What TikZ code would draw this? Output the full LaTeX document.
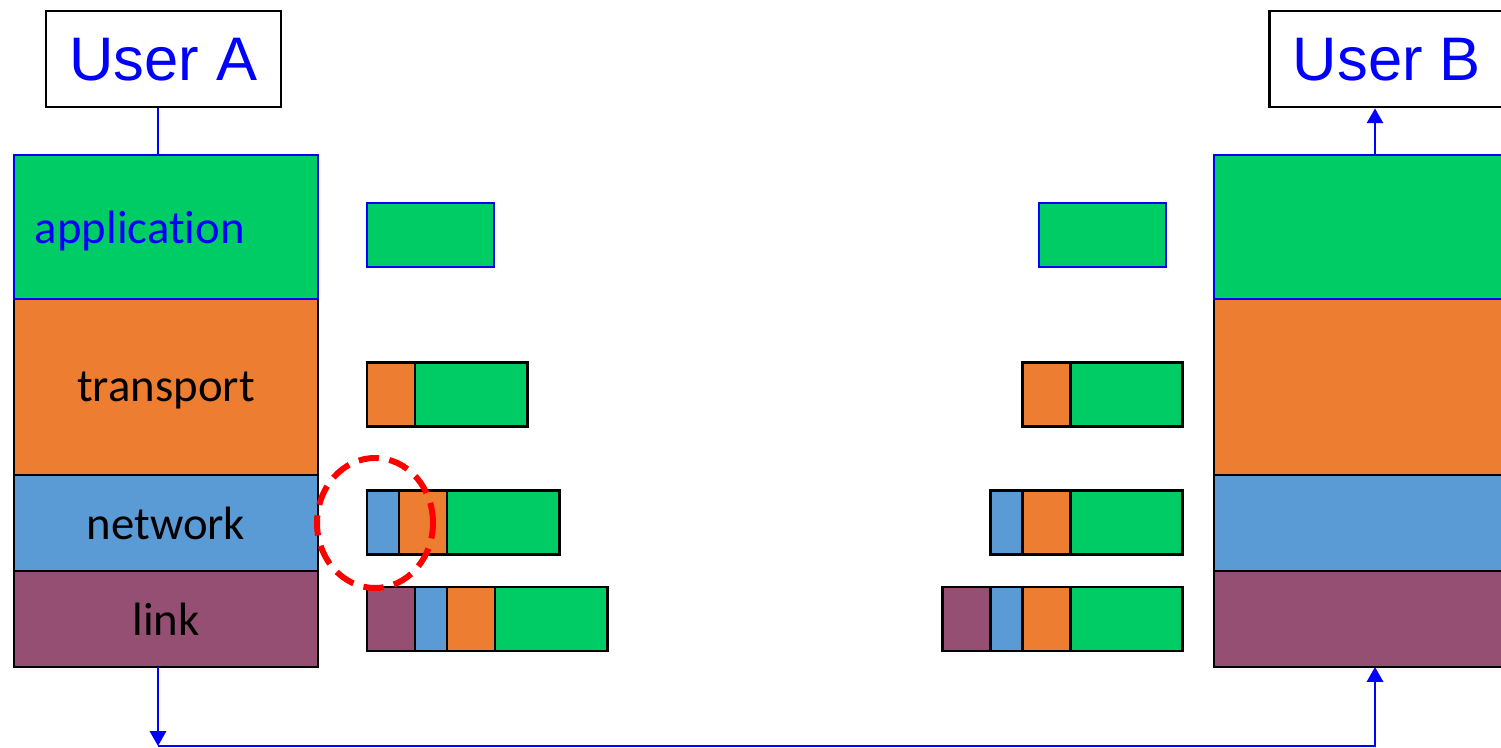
\documentclass[tikz,border=0pt]{standalone}
\usepackage{fontspec}
\setmainfont{Carlito}[Ligatures=NoCommon]
\newfontfamily\arialfont{Liberation Sans}
\usetikzlibrary{arrows.meta,positioning,shapes.geometric}
\definecolor{appgreen}{HTML}{00CC66}
\definecolor{tporange}{HTML}{ED7D31}
\definecolor{netblue}{HTML}{5B9BD5}
\definecolor{linkplum}{HTML}{954F72}
\definecolor{wireblue}{HTML}{0000FF}
\tikzset{
  layer/.style={rectangle, draw=black, line width=0.8pt, minimum width=30.4mm, inner sep=0pt, outer sep=0pt,
                text depth=0pt, font=\fontsize{13.3}{16}\selectfont},
  appfill/.style={fill=appgreen, draw=wireblue},
  userbox/.style={rectangle, draw=black, line width=0.8pt, minimum width=23.5mm, minimum height=9.6mm, inner sep=0pt,
                  text depth=0pt, text=wireblue, font=\arialfont\fontsize{17.5}{20}\selectfont},
  hdr/.style={rectangle, draw=black, line width=0.85pt, minimum height=6.4mm, inner sep=0pt, outer sep=0pt},
  wire/.style={draw=wireblue, line width=0.6pt},
  wirearrow/.style={wire, -{Triangle[length=4.2pt, width=4.6pt]}},
  hilite/.style={ellipse, draw=red, line width=1.7pt, dash pattern=on 5.8pt off 3pt,
                 minimum width=11.6mm, minimum height=13mm, inner sep=0pt}
}
\begin{document}
\begin{tikzpicture}[node distance=0pt]
  \useasboundingbox (0,0) rectangle (15.01,7.48);
  \clip (0,0) rectangle (15.01,7.48);
  \node[userbox] (userA) at (1.635,6.89) {User A};
  \node[userbox, anchor=west] (userB) at (12.68,6.89) {User B};
  % sender stack
  \node[layer, fill=linkplum, minimum height=9.6mm, anchor=south west] (linkA) at (0.14,0.81) {link};
  \node[layer, fill=netblue, minimum height=9.6mm, above=of linkA] (netA) {network};
  \node[layer, fill=tporange, minimum height=17.6mm, above=of netA] (tpA) {transport};
  \node[layer, appfill, minimum height=14.4mm, text width=26.2mm, inner xsep=2.1mm, align=left, text=wireblue,
        above=of tpA] (appA) {application};
  % receiver stack
  \node[layer, fill=linkplum, minimum height=9.6mm, anchor=south west] (linkB) at (12.14,0.81) {};
  \node[layer, fill=netblue, minimum height=9.6mm, above=of linkB] (netB) {};
  \node[layer, fill=tporange, minimum height=17.6mm, above=of netB] (tpB) {};
  \node[layer, appfill, minimum height=14.4mm, above=of tpB] (appB) {};
  % sender packets
  \node[hdr, appfill, line width=0.6pt, minimum width=12.7mm, anchor=west] (pA1) at (3.67,5.13) {};
  \node[hdr, fill=tporange, minimum width=4.8mm, anchor=west] (pA2t) at (3.67,3.53) {};
  \node[hdr, fill=appgreen, minimum width=11.2mm, right=of pA2t] (pA2d) {};
  \node[hdr, fill=netblue, minimum width=3.2mm, anchor=west] (pA3n) at (3.67,2.25) {};
  \node[hdr, fill=tporange, minimum width=4.8mm, right=of pA3n] (pA3t) {};
  \node[hdr, fill=appgreen, minimum width=11.2mm, right=of pA3t] (pA3d) {};
  \node[hdr, fill=linkplum, minimum width=4.8mm, anchor=west] (pA4l) at (3.67,1.29) {};
  \node[hdr, fill=netblue, minimum width=3.2mm, right=of pA4l] (pA4n) {};
  \node[hdr, fill=tporange, minimum width=4.8mm, right=of pA4n] (pA4t) {};
  \node[hdr, fill=appgreen, minimum width=11.2mm, right=of pA4t] (pA4d) {};
  % receiver packets
  \node[hdr, appfill, line width=0.6pt, minimum width=12.7mm, anchor=west] (pB1) at (10.39,5.13) {};
  \node[hdr, fill=appgreen, minimum width=11.2mm, anchor=east] (pB2d) at (11.82,3.53) {};
  \node[hdr, fill=tporange, minimum width=4.8mm, left=of pB2d] (pB2t) {};
  \node[hdr, fill=appgreen, minimum width=11.2mm, anchor=east] (pB3d) at (11.82,2.25) {};
  \node[hdr, fill=tporange, minimum width=4.8mm, left=of pB3d] (pB3t) {};
  \node[hdr, fill=netblue, minimum width=3.2mm, left=of pB3t] (pB3n) {};
  \node[hdr, fill=appgreen, minimum width=11.2mm, anchor=east] (pB4d) at (11.82,1.29) {};
  \node[hdr, fill=tporange, minimum width=4.8mm, left=of pB4d] (pB4t) {};
  \node[hdr, fill=netblue, minimum width=3.2mm, left=of pB4t] (pB4n) {};
  \node[hdr, fill=linkplum, minimum width=4.8mm, left=of pB4n] (pB4l) {};
  \node[hilite] (focus) at (3.75,2.25) {};
  % wiring
  \coordinate (dropA) at (1.58,0.02);
  \coordinate (riseB) at (13.75,0.02);
  \draw[wire] (userA.south -| dropA) -- (appA.north -| dropA);
  \draw[wirearrow] (appB.north -| riseB) -- (userB.south -| riseB);
  \draw[wirearrow] (linkA.south -| dropA) -- (dropA);
  \draw[wirearrow] (dropA) -| (linkB.south -| riseB);
\end{tikzpicture}
\end{document}
